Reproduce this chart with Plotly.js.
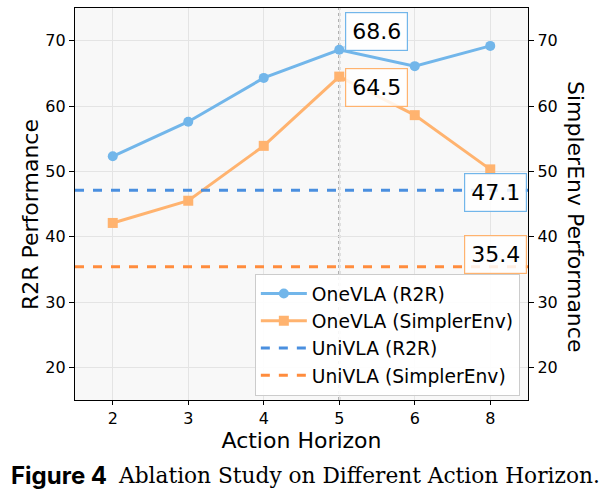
<!DOCTYPE html>
<html>
<head>
<meta charset="utf-8">
<script src="https://cdn.plot.ly/plotly-3.0.1.min.js"></script>
<style>
  html, body { margin: 0; padding: 0; background: #fff; }
  #chart { width: 605px; height: 497px; }
</style>
</head>
<body>
<div id="chart"></div>
<script>
// action horizon categories
var horizons = ['2', '3', '4', '5', '6', '8'];

// OneVLA results
var oneR2R = [52.3, 57.6, 64.3, 68.6, 66.1, 69.2];
var oneSimpler = [42.1, 45.5, 53.9, 64.5, 58.6, 50.3];

// UniVLA baselines
var uniR2R = 47.1;
var uniSimpler = 35.4;

// best horizon, highlighted with a dotted line
var bestHorizon = '5';
//category axis: place things by index, a string like '5' is read as an index
var bestIdx = horizons.indexOf(bestHorizon);

var blue = '#72b6ea';
var orange = '#ffb36f';
var blueDash = '#4a8fdf';
var orangeDash = '#ff8c3d';

var tickFont = {family: 'DejaVu Sans', size: 16, color: '#000'};
var titleFont = {family: 'DejaVu Sans', size: 22, color: '#000'};
var numFont = {family: 'DejaVu Sans', size: 22, color: '#000'};

var data = [
        {
                x: horizons, y: oneR2R, name: 'OneVLA (R2R)',
                mode: 'lines+markers', type: 'scatter',
                line: {color: blue, width: 3},
                marker: {color: blue, size: 10, symbol: 'circle'}
        },
        {
                x: horizons, y: oneSimpler, name: 'OneVLA (SimplerEnv)',
                mode: 'lines+markers', type: 'scatter', yaxis: 'y2',
                line: {color: orange, width: 3},
                marker: {color: orange, size: 10, symbol: 'square'}
        }
];

var shapes = [
        //dotted marker for best horizon
        {type: 'line', xref: 'x', yref: 'paper', x0: bestIdx, x1: bestIdx, y0: 0, y1: 1,
         line: {color: '#999999', width: 2, dash: 'dot'}, layer: 'below'},
        //baselines, full width
        {type: 'line', xref: 'paper', yref: 'y', x0: 0, x1: 1, y0: uniR2R, y1: uniR2R,
         line: {color: blueDash, width: 3, dash: 'dash'},
         showlegend: true, name: 'UniVLA (R2R)'},
        {type: 'line', xref: 'paper', yref: 'y', x0: 0, x1: 1, y0: uniSimpler, y1: uniSimpler,
         line: {color: orangeDash, width: 3, dash: 'dash'},
         showlegend: true, name: 'UniVLA (SimplerEnv)'}
];

function box(text, color) {
        return {
                text: text, font: numFont,
                bgcolor: 'rgba(255,255,255,0.85)', bordercolor: color, borderwidth: 1.2, borderpad: 6
        };
}

var a1 = box(String(oneR2R[bestIdx]), blue);
a1.x = bestIdx; a1.y = oneR2R[bestIdx]; a1.xref = 'x'; a1.yref = 'y';
a1.showarrow = true; a1.arrowhead = 0; a1.arrowcolor = 'rgba(114,182,234,0.35)';
a1.ax = 37; a1.ay = -18;

var a2 = box(String(oneSimpler[bestIdx]), orange);
a2.x = bestIdx; a2.y = oneSimpler[bestIdx]; a2.xref = 'x'; a2.yref = 'y2';
a2.showarrow = true; a2.arrowhead = 0; a2.arrowcolor = 'rgba(255,179,111,0.35)';
a2.ax = 37; a2.ay = 11;

var a3 = box(String(uniR2R), blue);
a3.x = 1; a3.xref = 'paper'; a3.xanchor = 'right'; a3.y = uniR2R; a3.yref = 'y';
a3.showarrow = false; a3.yshift = -2; a3.xshift = -1;

var a4 = box(String(uniSimpler), orange);
a4.x = 1; a4.xref = 'paper'; a4.xanchor = 'right'; a4.y = uniSimpler; a4.yref = 'y';
a4.showarrow = false; a4.yshift = 12; a4.xshift = -1;

var annotations = [a1, a2, a3, a4,
        //axis titles, sitting a bit below centre like the original
        {text: 'R2R Performance', xref: 'paper', yref: 'paper', x: 0, y: 0.5,
         xanchor: 'center', yanchor: 'middle', xshift: -45, yshift: -11, textangle: -90,
         showarrow: false, font: titleFont},
        {text: 'SimplerEnv Performance', xref: 'paper', yref: 'paper', x: 1, y: 0.5,
         xanchor: 'center', yanchor: 'middle', xshift: 48, yshift: -12, textangle: 90,
         showarrow: false, font: titleFont},
        //figure caption
        {text: '<b>Figure 4</b>', xref: 'paper', yref: 'paper', x: -0.1457, y: 0,
         xanchor: 'left', yanchor: 'middle', yshift: -75, showarrow: false,
         font: {family: 'Inter', size: 24, color: '#000'}},
        {text: 'Ablation Study on Different Action Horizon.', xref: 'paper', yref: 'paper',
         x: 0.0905, y: 0, xanchor: 'left', yanchor: 'middle', yshift: -75, showarrow: false,
         font: {family: 'DejaVu Serif', size: 21.7, color: '#000'}}
];

var layout = {
        width: 605, height: 497,
        margin: {l: 75, r: 77, t: 8, b: 97},
        paper_bgcolor: '#ffffff',
        plot_bgcolor: '#f8f8f8',
        showlegend: true,
        xaxis: {
                type: 'category', range: [-0.5, 5.5],
                title: {text: 'Action Horizon', font: titleFont, standoff: 1},
                tickfont: tickFont, ticks: 'outside', ticklen: 4, tickcolor: '#000',
                showgrid: true, gridcolor: '#e4e4e4', gridwidth: 1,
                showline: true, linecolor: '#000', linewidth: 1.2, mirror: true,
                zeroline: false
        },
        yaxis: {
                range: [15, 75], dtick: 10,
                tickfont: tickFont, ticks: 'outside', ticklen: 5, tickcolor: '#000',
                showgrid: true, gridcolor: '#e4e4e4', gridwidth: 1,
                showline: true, linecolor: '#000', linewidth: 1.2, mirror: true,
                zeroline: false
        },
        yaxis2: {
                range: [15, 75], dtick: 10, overlaying: 'y', side: 'right',
                tickfont: tickFont, ticks: 'outside', ticklen: 5, tickcolor: '#000',
                showgrid: false, showline: true, linecolor: '#000', linewidth: 1.2,
                zeroline: false
        },
        legend: {
                x: 0.397, y: 0.322, xanchor: 'left', yanchor: 'top',
                bgcolor: 'rgba(255,255,255,0.9)', bordercolor: '#cccccc', borderwidth: 1,
                font: {family: 'DejaVu Sans', size: 18.7, color: '#000'},
                itemwidth: 46, tracegroupgap: 0
        },
        shapes: shapes,
        annotations: annotations
};

Plotly.newPlot('chart', data, layout, {displayModeBar: false, staticPlot: true});
</script>
</body>
</html>
